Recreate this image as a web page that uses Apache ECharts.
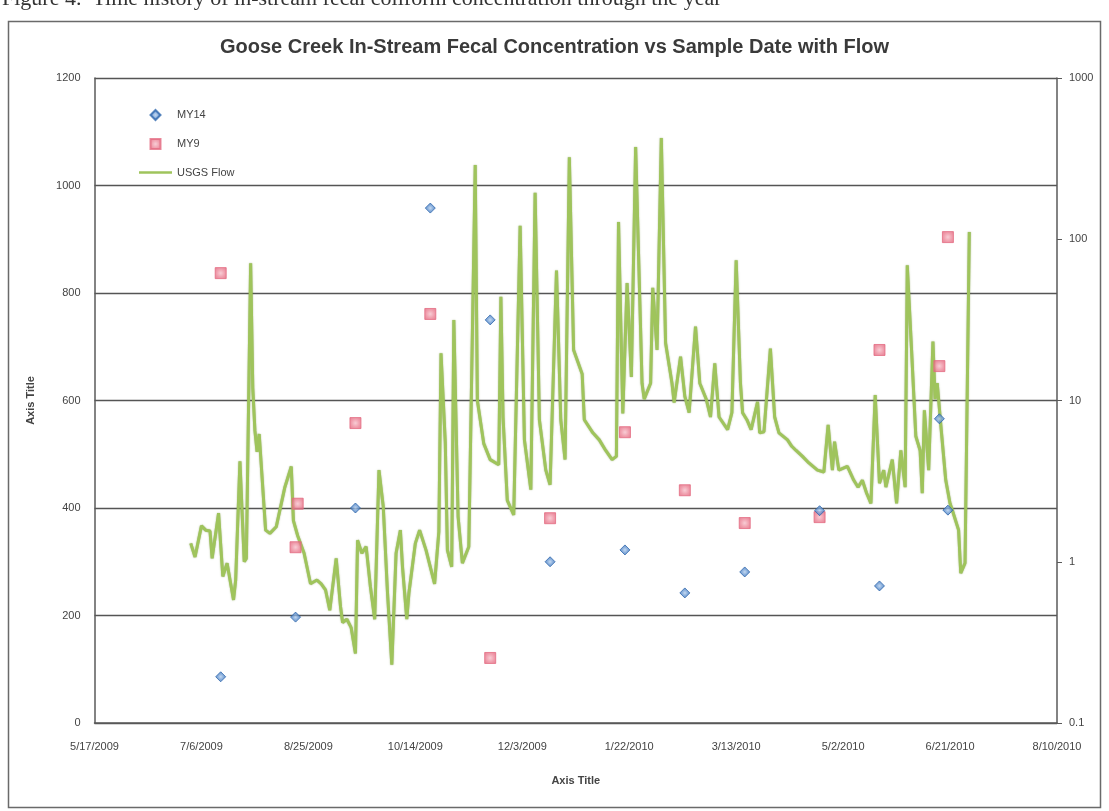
<!DOCTYPE html>
<html>
<head>
<meta charset="utf-8">
<script src="https://cdn.jsdelivr.net/npm/echarts@6/dist/echarts.min.js"></script>
<style>
  html, body { margin: 0; padding: 0; background: #fff; }
  #chart { width: 1109px; height: 811px; }
</style>
</head>
<body>
<div id="chart"></div>
<script>
// Goose Creek sampling results (cfu/100 mL) and USGS daily flow
const axisStart = '2009-05-17';
const axisEnd = '2010-08-10';

const my14Dates = ['2009-07-15', '2009-08-19', '2009-09-16', '2009-10-21', '2009-11-18', '2009-12-16',
  '2010-01-20', '2010-02-17', '2010-03-17', '2010-04-21', '2010-05-19', '2010-06-16', '2010-06-20'];
const my14Values = [86, 197, 400, 958, 750, 300, 322, 242, 281, 395, 255, 566, 396];

const my9Dates = ['2009-07-15', '2009-08-19', '2009-08-20', '2009-09-16', '2009-10-21', '2009-11-18', '2009-12-16',
  '2010-01-20', '2010-02-17', '2010-03-17', '2010-04-21', '2010-05-19', '2010-06-16', '2010-06-20'];
const my9Values = [837, 327, 408, 558, 761, 121, 381, 541, 433, 372, 383, 694, 664, 904];

const flowDates = [
  '2009-07-01', '2009-07-03', '2009-07-06', '2009-07-08', '2009-07-10', '2009-07-11', '2009-07-14', '2009-07-16',
  '2009-07-18', '2009-07-21', '2009-07-22', '2009-07-24', '2009-07-26', '2009-07-27', '2009-07-29', '2009-07-30',
  '2009-07-31', '2009-08-01', '2009-08-02', '2009-08-05', '2009-08-07', '2009-08-10', '2009-08-14', '2009-08-17',
  '2009-08-18', '2009-08-20', '2009-08-23', '2009-08-26', '2009-08-29', '2009-08-31', '2009-09-02', '2009-09-04',
  '2009-09-07', '2009-09-09', '2009-09-10', '2009-09-12', '2009-09-14', '2009-09-16', '2009-09-17', '2009-09-19',
  '2009-09-21', '2009-09-23', '2009-09-25', '2009-09-27', '2009-09-29', '2009-10-01', '2009-10-03', '2009-10-05',
  '2009-10-07', '2009-10-08', '2009-10-10', '2009-10-11', '2009-10-14', '2009-10-16', '2009-10-19', '2009-10-23',
  '2009-10-25', '2009-10-26', '2009-10-28', '2009-10-29', '2009-10-31', '2009-11-01', '2009-11-03', '2009-11-05',
  '2009-11-08', '2009-11-11', '2009-11-12', '2009-11-15', '2009-11-18', '2009-11-22', '2009-11-23', '2009-11-24',
  '2009-11-26', '2009-11-29', '2009-12-02', '2009-12-04', '2009-12-07', '2009-12-09', '2009-12-11', '2009-12-14',
  '2009-12-16', '2009-12-19', '2009-12-21', '2009-12-23', '2009-12-25', '2009-12-27', '2009-12-31', '2010-01-01',
  '2010-01-05', '2010-01-08', '2010-01-11', '2010-01-14', '2010-01-16', '2010-01-17', '2010-01-19', '2010-01-21',
  '2010-01-23', '2010-01-25', '2010-01-28', '2010-01-29', '2010-02-01', '2010-02-02', '2010-02-04', '2010-02-06',
  '2010-02-08', '2010-02-11', '2010-02-12', '2010-02-15', '2010-02-17', '2010-02-19', '2010-02-22', '2010-02-24',
  '2010-02-27', '2010-03-01', '2010-03-03', '2010-03-05', '2010-03-09', '2010-03-11', '2010-03-13', '2010-03-15',
  '2010-03-16', '2010-03-18', '2010-03-20', '2010-03-23', '2010-03-24', '2010-03-26', '2010-03-29', '2010-03-31',
  '2010-04-02', '2010-04-06', '2010-04-08', '2010-04-10', '2010-04-13', '2010-04-16', '2010-04-20', '2010-04-23',
  '2010-04-25', '2010-04-27', '2010-04-28', '2010-04-30', '2010-05-04', '2010-05-07', '2010-05-09', '2010-05-11',
  '2010-05-13', '2010-05-15', '2010-05-17', '2010-05-19', '2010-05-21', '2010-05-22', '2010-05-25', '2010-05-27',
  '2010-05-29', '2010-05-31', '2010-06-01', '2010-06-03', '2010-06-05', '2010-06-07', '2010-06-08', '2010-06-09',
  '2010-06-11', '2010-06-13', '2010-06-14', '2010-06-15', '2010-06-17', '2010-06-19', '2010-06-21', '2010-06-22',
  '2010-06-25', '2010-06-26', '2010-06-28', '2010-06-30'
];
const flowValues = [
  1.30, 1.07, 1.67, 1.57, 1.55, 1.05, 2.0, 0.81,
  0.98, 0.58, 0.77, 4.2, 1.0, 1.05, 71, 12,
  6.5, 4.8, 6.2, 1.57, 1.5, 1.65, 2.9, 3.9,
  1.8, 1.45, 1.13, 0.73, 0.77, 0.73, 0.67, 0.50,
  1.05, 0.53, 0.42, 0.44, 0.39, 0.27, 1.36, 1.13,
  1.24, 0.70, 0.44, 3.7, 2.2, 0.64, 0.23, 1.13,
  1.57, 0.93, 0.44, 0.64, 1.30, 1.57, 1.18, 0.73,
  1.54, 19.6, 5.5, 1.18, 0.93, 31.6, 1.9, 0.98,
  1.24, 289, 10, 5.4, 4.3, 4.0, 44, 7.9,
  2.4, 1.95, 121, 5.7, 2.8, 194, 7.6, 3.7,
  3.0, 64, 7.6, 4.3, 322, 20.6, 14.6, 7.6,
  6.3, 5.7, 4.9, 4.3, 4.5, 128, 8.3, 53.5,
  14, 373, 12.8, 10.2, 12.8, 50, 20.6, 425,
  22.7, 12.8, 9.7, 18.7, 10.6, 8.4, 28.7, 12.8,
  10.2, 7.9, 17, 7.9, 6.6, 8.4, 74, 12.8,
  8.4, 7.6, 6.6, 9.8, 6.3, 6.4, 21, 7.9,
  6.3, 5.7, 5.2, 4.9, 4.5, 4.1, 3.7, 3.6,
  7.05, 3.7, 5.55, 3.7, 3.9, 3.2, 2.9, 3.2,
  2.66, 2.3, 10.8, 3.07, 3.7, 2.9, 4.3, 2.3,
  4.9, 2.9, 69, 20.6, 6.0, 4.9, 2.66, 8.7,
  3.7, 23.2, 10.2, 12.8, 6.3, 3.2, 2.3, 2.1,
  1.57, 0.85, 0.98, 111
];

const leftTicks = { min: 0, max: 1200, step: 200 };
const rightTicks = { min: 0.1, max: 1000 };

const DAY = 86400000;
function toUTC(s) {
  const p = s.split('-').map(Number);
  return Date.UTC(p[0], p[1] - 1, p[2]);
}
const base = toUTC(axisStart);
// days elapsed since the first axis date
function dayNum(s) { return Math.round((toUTC(s) - base) / DAY); }
function dayLabel(v) {
  const d = new Date(base + v * DAY);
  return (d.getUTCMonth() + 1) + '/' + d.getUTCDate() + '/' + d.getUTCFullYear();
}
// plain numbers, no thousands separators
function plain(v) { return String(+v.toPrecision(6)); }

const FONT = "'Liberation Sans', Arial, sans-serif";
const axisColor = '#5a5a5a';

const chart = echarts.init(document.getElementById('chart'), null, { renderer: 'canvas' });

const blueFill = new echarts.graphic.RadialGradient(0.5, 0.5, 0.6, [
  { offset: 0, color: '#b6d0ee' }, { offset: 0.4, color: '#6d9bd4' }, { offset: 1, color: '#2b63a9' }
]);
const pinkFill = new echarts.graphic.RadialGradient(0.5, 0.5, 0.7, [
  { offset: 0, color: '#f6c0ca' }, { offset: 0.5, color: '#ec8598' }, { offset: 1, color: '#df5a73' }
]);

chart.setOption({
  animation: false,
  backgroundColor: '#ffffff',
  textStyle: { fontFamily: FONT },
  title: {
    text: 'Goose Creek In-Stream Fecal Concentration vs Sample Date with Flow',
    left: 'center',
    top: 32,
    textStyle: { fontFamily: FONT, fontWeight: 'bold', fontSize: 20, color: '#3a3a3a' }
  },
  graphic: [
    {
      type: 'text', left: 2, top: -12, silent: true,
      style: { text: 'Figure 4.  Time history of in-stream fecal coliform concentration through the year',
        font: "22px 'Liberation Serif', serif", fill: '#333' }
    },
    {
      type: 'rect', silent: true, z: -1,
      shape: { x: 8.5, y: 21.5, width: 1092, height: 786 },
      style: { fill: 'none', stroke: '#6a6a6a', lineWidth: 1.5 }
    }
  ],
  legend: {
    orient: 'vertical',
    left: 134,
    top: 104,
    itemWidth: 33,
    itemHeight: 10,
    itemGap: 17,
    symbolKeepAspect: true,
    textStyle: { fontFamily: FONT, fontSize: 11, color: '#444' },
    data: [
      { name: 'MY14', icon: 'path://M5,0 L10,5 L5,10 L0,5 Z' },
      { name: 'MY9', icon: 'path://M0,0 L10,0 L10,10 L0,10 Z' },
      { name: 'USGS Flow', icon: 'path://M0,0 L33,0 L33,2.6 L0,2.6 Z' }
    ]
  },
  grid: { left: 94.5, right: 52, top: 78, bottom: 88 },
  xAxis: {
    type: 'value',
    min: 0,
    max: dayNum(axisEnd),
    interval: 50,
    name: 'Axis Title',
    nameLocation: 'middle',
    nameGap: 52,
    nameTextStyle: { fontFamily: FONT, fontWeight: 'bold', fontSize: 11, color: '#444' },
    axisLine: { show: true, onZero: false, lineStyle: { color: axisColor, width: 1.5 } },
    axisTick: { show: false },
    splitLine: { show: false },
    axisLabel: { formatter: dayLabel, fontSize: 11, color: '#444', margin: 18, fontFamily: FONT }
  },
  yAxis: [
    {
      type: 'value',
      min: leftTicks.min,
      max: leftTicks.max,
      interval: leftTicks.step,
      name: 'Axis Title',
      nameLocation: 'middle',
      nameGap: 58,
      nameRotate: 90,
      nameTextStyle: { fontFamily: FONT, fontWeight: 'bold', fontSize: 11, color: '#444' },
      axisLine: { show: true, lineStyle: { color: axisColor, width: 1.5 } },
      axisTick: { show: false },
      splitLine: { show: true, lineStyle: { color: '#555', width: 1.3 } },
      axisLabel: { formatter: plain, fontSize: 11, color: '#444', margin: 14, fontFamily: FONT }
    },
    {
      type: 'log',
      logBase: 10,
      min: rightTicks.min,
      max: rightTicks.max,
      position: 'right',
      axisLine: { show: true, lineStyle: { color: axisColor, width: 1.5 } },
      axisTick: { show: true, inside: false, length: 5, lineStyle: { color: axisColor } },
      splitLine: { show: false },
      axisLabel: { formatter: plain, fontSize: 11, color: '#444', margin: 12, fontFamily: FONT }
    }
  ],
  series: [
    {
      name: 'USGS Flow',
      type: 'line',
      yAxisIndex: 1,
      showSymbol: false,
      symbol: 'none',
      z: 2,
      color: '#9fc45c',
      lineStyle: { color: '#9fc45c', width: 3, shadowColor: 'rgba(95,125,35,0.6)', shadowBlur: 1.5 },
      data: flowDates.map((d, i) => [dayNum(d), flowValues[i]])
    },
    {
      name: 'MY14',
      type: 'scatter',
      yAxisIndex: 0,
      symbol: 'diamond',
      symbolSize: 10,
      z: 4,
      color: '#3d78bd',
      itemStyle: { color: blueFill, borderColor: '#2f68ae', borderWidth: 1 },
      data: my14Dates.map((d, i) => [dayNum(d), my14Values[i]])
    },
    {
      name: 'MY9',
      type: 'scatter',
      yAxisIndex: 0,
      symbol: 'rect',
      symbolSize: 11,
      z: 3,
      color: '#e8708a',
      itemStyle: { color: pinkFill, borderColor: '#e36b82', borderWidth: 1 },
      data: my9Dates.map((d, i) => [dayNum(d), my9Values[i]])
    }
  ]
});
</script>
</body>
</html>
